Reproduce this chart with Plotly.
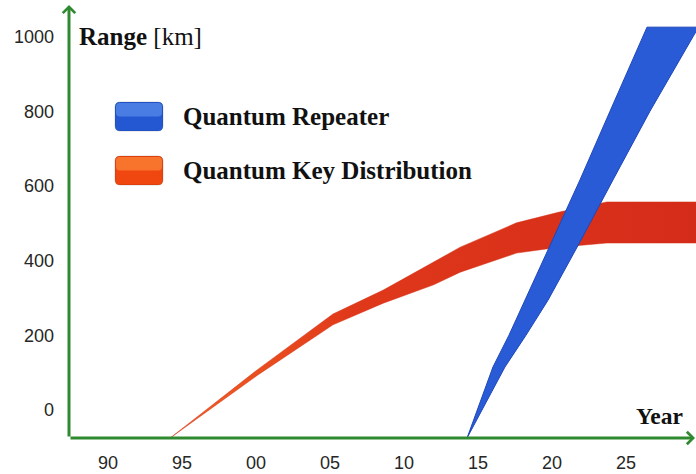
import plotly.graph_objects as go

# Quantum Key Distribution reach band (year, upper/lower range in km)
qkd_years = [1994.2, 2000.1, 2005.2, 2008.6, 2012.0, 2013.8, 2017.6, 2020.5, 2023.7, 2029.8]
qkd_upper = [-75, 108, 257, 321, 396, 436, 501, 530, 557, 557]
qkd_lower = [-75, 93, 228, 286, 335, 369, 420, 436, 447, 447]

# Quantum Repeater band: range levels with left/right edge years
rep_km = [-75, 20, 115, 200, 294, 450, 616, 800, 1025]
rep_left = [2014.26, 2015.14, 2016.01, 2017.09, 2018.18, 2020.0, 2021.89, 2023.92, 2026.42]
rep_right = [2014.26, 2015.54, 2016.82, 2018.24, 2019.73, 2021.89, 2024.12, 2026.62, 2029.9]

# Axis ticks
y_ticks = [0, 200, 400, 600, 800, 1000]
x_ticks = [1990, 1995, 2000, 2005, 2010, 2015, 2020, 2025]
x_labels = ["90", "95", "00", "05", "10", "15", "20", "25"]

W, H = 696, 474
ML, MR, MT, MB = 69, 0, 0, 36
PW, PH = W - ML - MR, H - MT - MB
GREEN = "#2f8a2f"
SERIF = "Liberation Serif, Times New Roman, serif"
SANS = "Liberation Sans, Arial, Helvetica, sans-serif"


def px(xp, yp):
    """Pixel position in the figure -> paper coordinates."""
    return (xp - ML) / PW, (H - MB - yp) / PH


fig = go.Figure()

fig.add_trace(go.Scatter(
    x=qkd_years + qkd_years[::-1],
    y=qkd_upper + qkd_lower[::-1],
    fill="toself", mode="lines",
    line=dict(color="rgba(210,45,20,0.6)", width=0.8),
    fillgradient=dict(type="horizontal",
                      colorscale=[[0, "#f26322"], [0.35, "#e0381a"], [1, "#d42c1a"]]),
    hoverinfo="skip", showlegend=False,
))

fig.add_trace(go.Scatter(
    x=rep_left + rep_right[::-1],
    y=rep_km + rep_km[::-1],
    fill="toself", mode="lines",
    line=dict(color="#1e47b8", width=1),
    fillcolor="#2a5bd6",
    hoverinfo="skip", showlegend=False,
))

# Axis arrows
xt, yt = px(69, 5)
fig.add_annotation(xref="paper", yref="paper", x=xt, y=yt, ax=0, ay=433,
                   axref="pixel", ayref="pixel", text="", showarrow=True,
                   arrowhead=4, arrowsize=0.8, arrowwidth=3, arrowcolor=GREEN)
xr, yr = px(695, 438)
fig.add_annotation(xref="paper", yref="paper", x=xr, y=yr, ax=-626, ay=0,
                   axref="pixel", ayref="pixel", text="", showarrow=True,
                   arrowhead=4, arrowsize=0.8, arrowwidth=3, arrowcolor=GREEN)

# Axis titles
ax_, ay_ = px(77, 36)
fig.add_annotation(xref="paper", yref="paper", x=ax_, y=ay_, xanchor="left", yanchor="middle",
                   text="<b>Range</b> [km]", showarrow=False,
                   font=dict(family=SERIF, size=25, color="#111111"))
ax_, ay_ = px(685, 416)
fig.add_annotation(xref="paper", yref="paper", x=ax_, y=ay_, xanchor="right", yanchor="middle",
                   text="<b>Year</b>", showarrow=False,
                   font=dict(family=SERIF, size=23.5, color="#111111"))

# Legend: rounded glossy boxes with labels
legend_items = [("Quantum Repeater", "#2458d2", "#6a9cf2", 102, 131),
                ("Quantum Key Distribution", "#f0460f", "#ff9a45", 156, 185)]


def rounded(xa, ya, xb, yb, r):
    (pa, qa), (pb, qb) = px(xa, ya), px(xb, yb)
    rx, ry = r / PW, r / PH
    return (f"M{pa+rx},{qa} L{pb-rx},{qa} Q{pb},{qa} {pb},{qa-ry} L{pb},{qb+ry} "
            f"Q{pb},{qb} {pb-rx},{qb} L{pa+rx},{qb} Q{pa},{qb} {pa},{qb+ry} "
            f"L{pa},{qa-ry} Q{pa},{qa} {pa+rx},{qa} Z")


for label, base, light, top, bot in legend_items:
    fig.add_shape(type="path", xref="paper", yref="paper",
                  path=rounded(115, top, 163, bot, 5),
                  fillcolor=base, line=dict(color="rgba(0,0,0,0.15)", width=1))
    mid = (top + bot) / 2
    fig.add_shape(type="path", xref="paper", yref="paper",
                  path=rounded(116, top + 1, 162, mid, 4),
                  fillcolor=light, opacity=0.55, line=dict(width=0))
    tx, ty = px(181, mid)
    fig.add_annotation(xref="paper", yref="paper", x=tx, y=ty, xanchor="left", yanchor="middle",
                       text=f"<b>{label}</b>", showarrow=False,
                       font=dict(family=SERIF, size=25, color="#111111"))

x_lo = 1990 + (ML - 108) / 14.8
x_hi = 1990 + (W - MR - 108) / 14.8
y_hi = 410 / 0.3735

fig.update_layout(
    width=W, height=H,
    margin=dict(l=ML, r=MR, t=MT, b=MB, pad=0),
    paper_bgcolor="white", plot_bgcolor="white",
    xaxis=dict(range=[x_lo, x_hi], tickvals=x_ticks, ticktext=x_labels,
               showgrid=False, zeroline=False, showline=False, ticks="",
               ticklabelstandoff=12,
               tickfont=dict(family=SANS, size=18, color="#262626")),
    yaxis=dict(range=[-75, y_hi], tickvals=y_ticks,
               showgrid=False, zeroline=False, showline=False, ticks="",
               ticklabelstandoff=14,
               tickfont=dict(family=SANS, size=18, color="#262626")),
)

fig.write_html("out.html")
